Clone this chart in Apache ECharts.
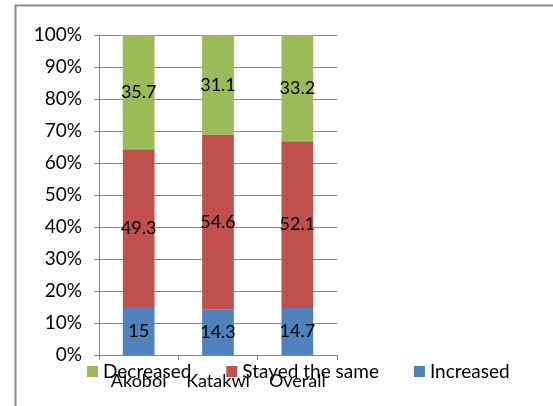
<!DOCTYPE html>
<html>
<head>
<meta charset="utf-8">
<script src="https://cdn.jsdelivr.net/npm/echarts@6/dist/echarts.min.js"></script>
<style>
  html, body { margin: 0; padding: 0; background: #fff; }
  #chart { width: 553px; height: 406px; }
</style>
</head>
<body>
<div id="chart"></div>
<script>
// data
var districts = ['Akoboi', 'Katakwi', 'Overall']
var increased = [15, 14.3, 14.7]
var stayedSame = [49.3, 54.6, 52.1]
var decreased = [35.7, 31.1, 33.2]
var yTicks = [0, 10, 20, 30, 40, 50, 60, 70, 80, 90, 100]

var fontName = 'Lato'
var chart = echarts.init(document.getElementById('chart'))

function barSeries (name, data, color) {
  return {
    name: name,
    type: 'bar',
    stack: 'all',
    barWidth: '40%',
    data: data,
    itemStyle: { color: color },
    label: {
      show: true,
      position: 'inside',
      color: '#000',
      fontFamily: fontName,
      fontSize: 18
    }
  }
}

chart.setOption({
  animation: false,
  textStyle: { fontFamily: fontName },
  // outer frame, only left + top edge fall inside the page
  graphic: [{
    type: 'rect',
    shape: { x: 15.5, y: 5.5, width: 600, height: 500 },
    style: { fill: 'none', stroke: '#8c8c8c', lineWidth: 2 },
    silent: true
  }],
  grid: { left: 99, top: 35, right: 216, bottom: 51 },
  legend: {
    data: ['Decreased', 'Stayed the same', 'Increased'],
    left: 82,
    top: 357,
    itemWidth: 11,
    itemHeight: 11,
    itemGap: 35,
    icon: 'rect',
    textStyle: { fontSize: 19, color: '#000', fontFamily: fontName }
  },
  xAxis: {
    type: 'category',
    data: districts,
    axisLine: { lineStyle: { color: '#888', width: 1 } },
    axisTick: { show: true, length: 5, lineStyle: { color: '#888' } },
    axisLabel: { color: '#000', fontSize: 18, margin: 17, interval: 0, hideOverlap: false, fontFamily: fontName }
  },
  yAxis: {
    type: 'value',
    min: yTicks[0],
    max: yTicks[yTicks.length - 1],
    interval: 10,
    axisLine: { show: true, lineStyle: { color: '#888', width: 1 } },
    axisTick: { show: true, length: 5, lineStyle: { color: '#888' } },
    splitLine: { lineStyle: { color: '#888', width: 1 } },
    axisLabel: {
      color: '#000',
      fontSize: 19,
      margin: 17,
      fontFamily: fontName,
      formatter: '{value}%'
    }
  },
  series: [
    barSeries('Increased', increased, '#4F81BD'),
    barSeries('Stayed the same', stayedSame, '#C0504D'),
    barSeries('Decreased', decreased, '#9BBB59')
  ]
})
</script>
</body>
</html>
